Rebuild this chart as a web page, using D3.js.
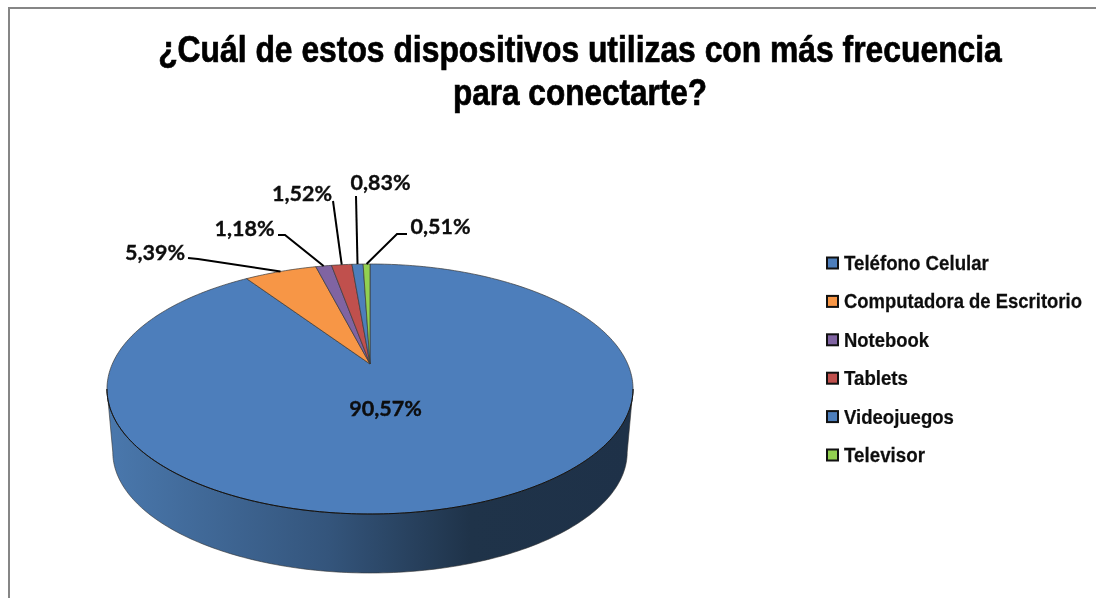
<!DOCTYPE html>
<html><head><meta charset="utf-8">
<script src="https://cdn.jsdelivr.net/npm/d3@7"></script>
<style>html,body{margin:0;padding:0;background:#fff}svg{display:block}</style>
</head><body><svg id="c" width="1096" height="598"></svg>
<script>
const titleLines = ["¿Cuál de estos dispositivos utilizas con más frecuencia", "para conectarte?"];
const categories = ["Teléfono Celular", "Computadora de Escritorio", "Notebook", "Tablets", "Videojuegos", "Televisor"];
const values = [90.57, 5.39, 1.18, 1.52, 0.83, 0.51];
const labels = ["90,57%", "5,39%", "1,18%", "1,52%", "0,83%", "0,51%"];
const colors = ["#4d7ebb", "#f79646", "#8064a2", "#c0504d", "#4d7ebb", "#92d050"];

const svg = d3.select("#c");
const defs = svg.append("defs");
defs.append("filter").attr("id","soft").attr("x","-5%").attr("y","-20%").attr("width","110%").attr("height","140%")
  .append("feGaussianBlur").attr("stdDeviation",0.35);

svg.append("rect").attr("width",1096).attr("height",598).attr("fill","#fff");
svg.append("path").attr("d","M9,598V8H1096").attr("fill","none").attr("stroke","#868686").attr("stroke-width",2);

// squeeze a text horizontally to a target width, keeping its box honest
function fitWidth(sel, widthOf, anchorX){
  sel.each(function(d,i){
    const t=d3.select(this), y=+t.attr("data-y"), w=this.getComputedTextLength(), s=widthOf(d,i)/w;
    t.attr("transform",`translate(${anchorX},${y}) scale(${s},1)`);
  });
}

// title
svg.append("g").attr("filter","url(#soft)").selectAll("text").data(titleLines).join("text")
  .attr("data-y",(d,i)=>62+i*43).attr("text-anchor","middle")
  .attr("font-family","'Liberation Sans',Arial,sans-serif").attr("font-weight",700)
  .attr("font-size",36).attr("fill","#000").attr("stroke","#000").attr("stroke-width",0.7)
  .text(d=>d)
  .call(fitWidth,(d,i)=>i?254:844,580);

// projected disc
const cx=370, k=0.2;
const topRim = {a:257.7, b:120, y:364};
const botRim = {a:252, b:116, y:428};
const proj=(t,p)=>{const d=1+k*Math.cos(t);return [cx+p.a*Math.sin(t)/d, p.y-p.b*Math.cos(t)/d];};
const line=d3.line();
const pie=d3.pie().sort(null).value(d=>d);
const arcs=pie(values);
const sample=(a0,a1,p)=>d3.range(0,1.0001,1/Math.max(2,Math.ceil((a1-a0)*60))).map(f=>proj(a0+(a1-a0)*f,p));

// side wall
const grad=defs.append("linearGradient").attr("id","wall").attr("gradientUnits","userSpaceOnUse")
  .attr("x1",107).attr("x2",633).attr("y1",0).attr("y2",0);
[[0,"#4a78ad"],[0.42,"#34557c"],[0.69,"#1f3349"],[1,"#1e3148"]].forEach(s=>grad.append("stop").attr("offset",s[0]).attr("stop-color",s[1]));
const wa=Math.PI-Math.acos(k), wb=Math.PI+Math.acos(k);
const wallPts=sample(wa,wb,topRim).concat(sample(wa,wb,botRim).reverse());
svg.append("path").attr("d",line(wallPts)+"Z").attr("fill","url(#wall)").attr("stroke","#333").attr("stroke-width",0.6);

// top faces
svg.append("g").selectAll("path").data(arcs).join("path")
  .attr("d",d=>line([[cx,topRim.y],...sample(d.startAngle,d.endAngle,topRim)])+"Z")
  .attr("fill",(d,i)=>colors[i]).attr("stroke","#3a3a3a").attr("stroke-width",0.7).attr("stroke-linejoin","round");
// darker front rim edge
svg.append("path").attr("d",line(sample(wa,wb,topRim))).attr("fill","none").attr("stroke","#111").attr("stroke-width",1);

// leaders (label anchor → elbow → rim mid-point of the slice)
const leaderAnchors=[null,[[188,258],[198,259]],[[278,235],[285,235]],[[333,201]],[[356,196]],[[407,234],[397,234]]];
svg.append("g").selectAll("path").data(arcs.filter((d,i)=>leaderAnchors[i])).join("path")
  .attr("d",d=>line([...leaderAnchors[d.index],proj((d.startAngle+d.endAngle)/2,topRim)]))
  .attr("fill","none").attr("stroke","#000").attr("stroke-width",2);

// labels
const labelPos=[[385.5,416],[155,260],[244.5,236],[302,201],[380.5,190],[440.5,234]];
svg.append("g").attr("filter","url(#soft)").selectAll("text").data(labels).join("text")
  .attr("x",(d,i)=>labelPos[i][0]).attr("y",(d,i)=>labelPos[i][1])
  .attr("text-anchor","middle").attr("font-family","Lato,Carlito,sans-serif").attr("font-weight",700)
  .attr("font-size",21.5).attr("fill","#0a0a0a").attr("stroke","#0a0a0a").attr("stroke-width",0.3).text(d=>d);

// legend
const rowY=d3.scalePoint().domain(categories).range([263,455]);
const lg=svg.append("g").selectAll("g").data(categories).join("g").attr("transform",d=>`translate(0,${rowY(d)})`);
lg.append("rect").attr("x",827).attr("y",-5.5).attr("width",11).attr("height",11)
  .attr("fill",(d,i)=>colors[i]).attr("stroke","#111").attr("stroke-width",2);
const legendW=[145,238,85,64,110,81];
lg.append("text").attr("data-y",7)
  .attr("font-family","'Liberation Sans',Arial,sans-serif").attr("font-weight",700).attr("font-size",21).attr("fill","#111")
  .attr("stroke","#111").attr("stroke-width",0.25)
  .attr("filter","url(#soft)").text(d=>d)
  .call(fitWidth,(d,i)=>legendW[i],844);
</script></body></html>
